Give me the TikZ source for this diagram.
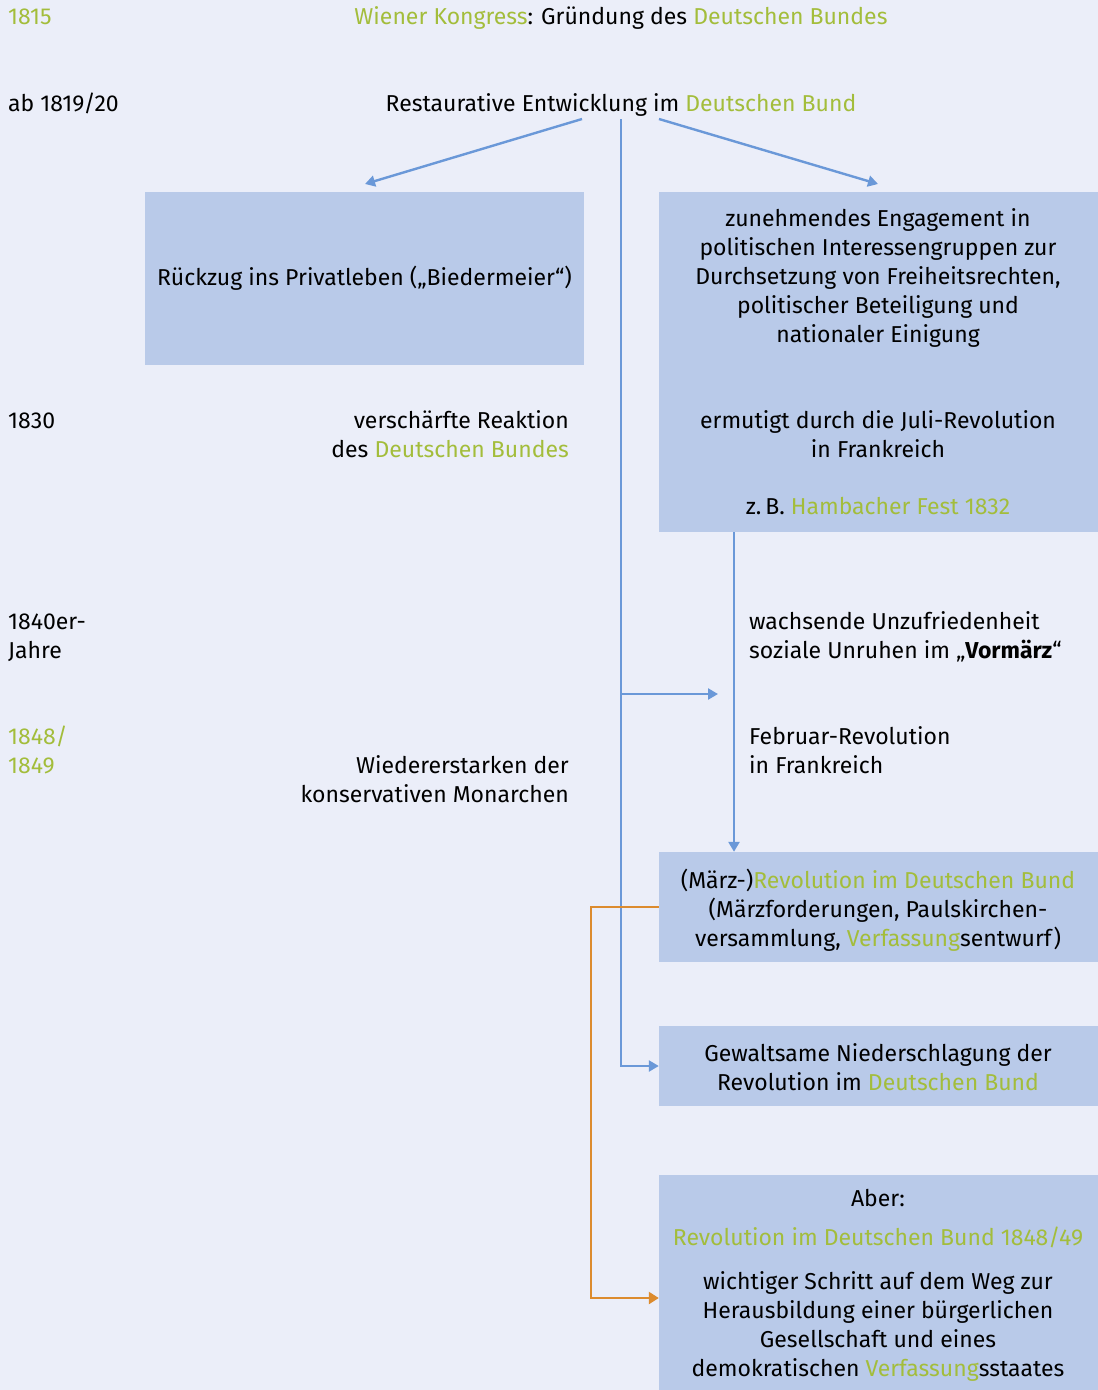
\documentclass[tikz,border=0pt]{standalone}
\usepackage{fontspec}
\setmainfont{Fira Sans}
\usetikzlibrary{arrows.meta}
\definecolor{bg}{HTML}{EBEEF9}
\definecolor{boxc}{HTML}{B9CAE9}
\definecolor{grn}{HTML}{A3BD3B}
\definecolor{blu}{HTML}{6A98D8}
\definecolor{org}{HTML}{DC8B2E}
\newcommand{\gtext}[1]{\textcolor{grn}{#1}}
\begin{document}
\begin{tikzpicture}[x=1pt,y=-1pt,
  txt/.style={inner sep=0pt, anchor=base, font=\fontsize{23}{29}\selectfont, align=center},
  ltxt/.style={txt, anchor=base west, align=left},
  rtxt/.style={txt, anchor=base east, align=right},
  box/.style={fill=boxc, draw=none, inner sep=0pt, font=\fontsize{23}{29}\selectfont, align=center},
  bl/.style={draw=blu, line width=2.4pt},
  blarrow/.style={bl, -{Triangle[length=10pt,width=11pt]}},
  orarrow/.style={draw=org, line width=2.4pt, -{Triangle[length=10pt,width=12pt]}}]
\useasboundingbox (0,0) rectangle (1098,1390);
\fill[bg] (0,0) rectangle (1098,1390);

% years
\node[ltxt] (y1815) at (8,24) {\gtext{1815}};
\node[ltxt] (y1819) at (8,111) {ab 1819/20};
\node[ltxt] (y1830) at (8,428) {1830};
\node[ltxt] (y1840) at (8,658) {1840er-\\Jahre};
\node[ltxt] (y1848) at (8,773) {\gtext{1848/}\\\gtext{1849}};

% top texts
\node[txt] (wk) at (621,24) {\gtext{Wiener Kongress}: Gründung des \gtext{Deutschen Bundes}};
\node[txt] (rest) at (621,111) {Restaurative Entwicklung im \gtext{Deutschen Bund}};

% boxes
\node[box, minimum width=439, minimum height=173] (rueck) at (364.5,278.5) {Rückzug ins Privatleben („Biedermeier“)};
\node[box, minimum width=439, minimum height=340] (eng) at (878.5,362) {};
\node[box, minimum width=439, minimum height=110] (maerz) at (878.5,907) {};
\node[box, minimum width=439, minimum height=80] (gew) at (878.5,1066) {};
\node[box, minimum width=439, minimum height=215] (aber) at (878.5,1282.5) {};

% texts in right boxes
\node[txt] (engt) at (878,342) {zunehmendes Engagement in\\politischen Interessengruppen zur\\Durchsetzung von Freiheitsrechten,\\politischer Beteiligung und\\nationaler Einigung};
\node[txt] (juli) at (878,457) {ermutigt durch die Juli-Revolution\\in Frankreich};
\node[txt] (hamb) at (878,514) {z.\,B. \gtext{Hambacher Fest 1832}};
\node[txt] (maerzt) at (878,946) {(März-)\gtext{Revolution im Deutschen Bund}\\(Märzforderungen, Paulskirchen-\\versammlung, \gtext{Verfassung}sentwurf)};
\node[txt] (gewt) at (878,1090) {Gewaltsame Niederschlagung der\\Revolution im \gtext{Deutschen Bund}};
\node[txt] (abert) at (878,1206) {Aber:};
\node[txt] (revt) at (878,1245) {\gtext{Revolution im Deutschen Bund 1848/49}};
\node[txt] (wicht) at (878,1376) {wichtiger Schritt auf dem Weg zur\\Herausbildung einer bürgerlichen\\Gesellschaft und eines\\demokratischen \gtext{Verfassung}sstaates};

% left texts
\node[rtxt] (versch) at (569,457) {verschärfte Reaktion\\des \gtext{Deutschen Bundes}};
\node[rtxt] (wieder) at (569,802) {Wiedererstarken der\\konservativen Monarchen};

% right texts
\node[ltxt] (wachs) at (749,658) {wachsende Unzufriedenheit\\soziale Unruhen im „\textbf{Vormärz}“};
\node[ltxt] (febr) at (749,773) {Februar-Revolution\\in Frankreich};

% connectors
\coordinate (s1) at (582,119);
\coordinate (s2) at (621,119);
\coordinate (s3) at (659,119);
\coordinate (e1) at (365,184);
\coordinate (e3) at (878,184);
\coordinate (br) at (621,694);
\coordinate (bre) at (718,694);
\coordinate (v2) at (734,532);

\draw[blarrow] (s1) -- (e1);
\draw[blarrow] (s3) -- (e3);
\draw[blarrow] (s2) |- (gew.west);
\draw[blarrow] (br) -- (bre);
\draw[blarrow] (v2) -- (v2 |- maerz.north);
\draw[orarrow] (maerz.west) -- ++(-68,0) |- ([yshift=-15.5pt]aber.west);
\end{tikzpicture}
\end{document}
